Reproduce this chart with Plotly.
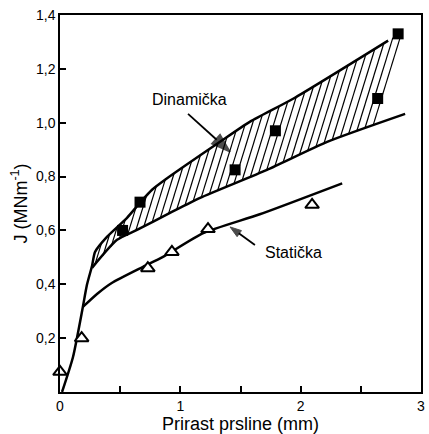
import numpy as np
import plotly.graph_objects as go

# --- data ---
dyn_x = [0.52, 0.665, 1.455, 1.79, 2.64, 2.81]
dyn_y = [0.60, 0.705, 0.825, 0.97, 1.09, 1.33]

stat_x = [0.0, 0.18, 0.73, 0.93, 1.23, 2.095]
stat_y = [0.075, 0.20, 0.46, 0.52, 0.605, 0.695]

# blunting line + upper band boundary
upper_x = [0.017, 0.108, 0.19, 0.224, 0.266, 0.291, 0.39, 0.557, 0.665, 0.765, 0.873, 1.33, 1.58, 1.937, 2.727]
upper_y = [0.0, 0.13, 0.316, 0.398, 0.468, 0.52, 0.576, 0.647, 0.703, 0.751, 0.788, 0.929, 1.004, 1.089, 1.305]

lower_x = [0.266, 0.474, 0.64, 0.914, 1.164, 1.72, 2.22, 2.868]
lower_y = [0.461, 0.565, 0.602, 0.665, 0.721, 0.825, 0.929, 1.033]

static_curve_x = [0.19, 0.31, 0.43, 0.69, 0.856, 1.19, 1.66, 2.345]
static_curve_y = [0.316, 0.365, 0.405, 0.465, 0.502, 0.59, 0.66, 0.775]

# label arrows: tail -> tip
dyn_arrow_x = [1.064, 1.413]
dyn_arrow_y = [1.033, 0.892]
stat_arrow_x = [1.62, 1.413]
stat_arrow_y = [0.546, 0.613]

x_tickvals = [0, 1, 2, 3]
x_ticktext = ["0", "1", "2", "3"]
y_tickvals = [0.2, 0.4, 0.6, 0.8, 1.0, 1.2, 1.4]
y_ticktext = ["0,2", "0,4", "0,6", "0,8", "1,0", "1,2", "1,4"]

FONT = "Liberation Sans, Arial, Helvetica, sans-serif"

# --- hatching between the band boundaries ---
band_ux = np.array(upper_x[4:])
band_uy = np.array(upper_y[4:])
slope_end = (band_uy[-1] - band_uy[-2]) / (band_ux[-1] - band_ux[-2])
ext_x = np.append(band_ux, 2.9)
ext_y = np.append(band_uy, band_uy[-1] + slope_end * (2.9 - band_ux[-1]))
k = 1.45  # hatch slope in data units
grid = np.linspace(0.266, 2.9, 4000)
up_g = np.interp(grid, ext_x, ext_y)
hx, hy = [], []
for xs in np.arange(0.29, 2.87, 0.068):
    ys = np.interp(xs, lower_x, lower_y)
    line_g = ys + k * (grid - xs)
    mask = (grid > xs) & (line_g >= up_g)
    if not mask.any():
        continue
    xe = grid[mask][0]
    ye = ys + k * (xe - xs)
    if xe > 2.87:
        xe = 2.87
        ye = ys + k * (xe - xs)
    hx += [xs, xe, None]
    hy += [ys, ye, None]

fig = go.Figure()
fig.add_trace(go.Scatter(x=hx, y=hy, mode="lines", line=dict(color="black", width=1.2),
                         hoverinfo="skip", showlegend=False))
fig.add_trace(go.Scatter(x=upper_x, y=upper_y, mode="lines", line=dict(color="black", width=2.5, shape="spline", smoothing=0.6),
                         showlegend=False))
fig.add_trace(go.Scatter(x=lower_x, y=lower_y, mode="lines", line=dict(color="black", width=2.5, shape="spline", smoothing=0.6),
                         showlegend=False))
fig.add_trace(go.Scatter(x=static_curve_x, y=static_curve_y, mode="lines",
                         line=dict(color="black", width=2.5, shape="spline", smoothing=0.6), showlegend=False))
fig.add_trace(go.Scatter(x=stat_x, y=stat_y, mode="markers", cliponaxis=False,
                         marker=dict(symbol="triangle-up", size=12, color="white",
                                     line=dict(color="black", width=2)), showlegend=False))
fig.add_trace(go.Scatter(x=dyn_x, y=dyn_y, mode="markers", cliponaxis=False,
                         marker=dict(symbol="square", size=11, color="black"), showlegend=False))

# arrows pointing from labels to the curves
fig.add_trace(go.Scatter(x=dyn_arrow_x, y=dyn_arrow_y, mode="lines+markers",
                         line=dict(color="black", width=1.8),
                         marker=dict(symbol="arrow", size=[0, 20], color="black", angleref="previous",
                                     line=dict(color="black", width=1.5)),
                         showlegend=False, hoverinfo="skip"))
fig.add_trace(go.Scatter(x=stat_arrow_x, y=stat_arrow_y, mode="lines+markers",
                         line=dict(color="black", width=1.8),
                         marker=dict(symbol="arrow", size=[0, 12], color="black", angleref="previous",
                                     line=dict(color="black", width=1)),
                         showlegend=False, hoverinfo="skip"))

fig.add_annotation(x=1.08, y=1.086, text="Dinamička", showarrow=False,
                   font=dict(family=FONT, size=16, color="black"))
fig.add_annotation(x=1.94, y=0.517, text="Statička", showarrow=False,
                   font=dict(family=FONT, size=16, color="black"))

fig.update_layout(
    width=429, height=434,
    margin=dict(l=60, r=8, t=15, b=42),
    paper_bgcolor="white", plot_bgcolor="white",
    font=dict(family=FONT, size=14, color="black"),
)
fig.update_xaxes(range=[0, 3], automargin=False, showgrid=False, zeroline=False, showline=True, linecolor="black",
                 linewidth=1.5, mirror=True, ticks="inside", ticklen=6, tickwidth=1.5, tickcolor="black",
                 tickvals=x_tickvals, ticktext=x_ticktext, tickfont=dict(size=14),
                 minor=dict(ticks="inside", dtick=0.5, tick0=0, ticklen=6, tickwidth=1.5, tickcolor="black", showgrid=False),
                 title=dict(text="Prirast prsline (mm)", font=dict(size=18), standoff=2))
fig.update_yaxes(range=[0, 1.4], automargin=False, showgrid=False, zeroline=False, showline=True, linecolor="black",
                 linewidth=1.5, mirror=True, ticks="inside", ticklen=6, tickwidth=1.5, tickcolor="black",
                 tickvals=y_tickvals, ticktext=y_ticktext, tickfont=dict(size=14),
                 title=dict(text="J (MNm<sup>-1</sup>)", font=dict(size=18), standoff=4))

fig.write_html("out.html", config={"displayModeBar": False},
               post_script="document.body.style.margin='0';document.body.style.overflow='hidden';")
